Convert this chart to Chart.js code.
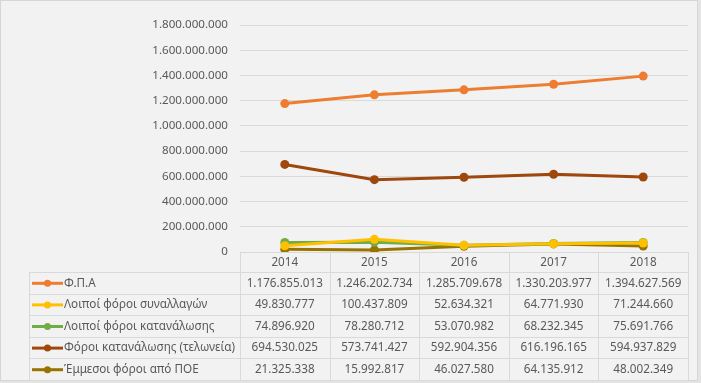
<!DOCTYPE html>
<html>
<head>
<meta charset="utf-8">
<script src="https://cdn.jsdelivr.net/npm/chart.js@4/dist/chart.umd.min.js"></script>
<style>
  html, body { margin: 0; padding: 0; background: #f2f2f2; }
  #wrap { width: 701px; height: 383px; position: relative; }
</style>
</head>
<body>
<div id="wrap"><canvas id="c" width="701" height="383"></canvas></div>
<script>
const years = ['2014', '2015', '2016', '2017', '2018'];
const seriesNames = [
  'Φ.Π.Α',
  'Λοιποί φόροι συναλλαγών',
  'Λοιποί φόροι κατανάλωσης',
  'Φόροι κατανάλωσης (τελωνεία)',
  'Έμμεσοι φόροι από ΠΟΕ'
];
const fpa = [1176855013, 1246202734, 1285709678, 1330203977, 1394627569];
const synallagon = [49830777, 100437809, 52634321, 64771930, 71244660];
const katanalosis = [74896920, 78280712, 53070982, 68232345, 75691766];
const telonia = [694530025, 573741427, 592904356, 616196165, 594937829];
const poe = [21325338, 15992817, 46027580, 64135912, 48002349];
const seriesColors = ['#ED7D31', '#FFC000', '#70AD47', '#9E480E', '#997300'];
const yTicks = [0, 200000000, 400000000, 600000000, 800000000, 1000000000, 1200000000, 1400000000, 1600000000, 1800000000];

const seriesValues = [fpa, synallagon, katanalosis, telonia, poe];
const FAMILY = '"Noto Sans", "Open Sans", sans-serif';
const FONT = '11.7px ' + FAMILY;
const TEXT = '#595959';
const LINE = '#d9d9d9';

function fmt(v) {
  return String(Math.round(v)).replace(/\B(?=(\d{3})+(?!\d))/g, '.');
}

const framePlugin = {
  id: 'frame',
  beforeDraw(chart) {
    const ctx = chart.ctx;
    ctx.save();
    ctx.fillStyle = '#f2f2f2';
    ctx.fillRect(0, 0, chart.width, chart.height);
    ctx.fillStyle = '#e4e4e4';
    ctx.fillRect(0, 381, chart.width, chart.height - 381);
    ctx.fillRect(698, 0, chart.width - 698, chart.height);
    ctx.strokeStyle = '#d6d6d6';
    ctx.lineWidth = 1;
    ctx.strokeRect(0.5, 0.5, 697, 380);
    ctx.restore();
  }
};

const tablePlugin = {
  id: 'dataTable',
  afterDraw(chart) {
    const ctx = chart.ctx;
    const x = chart.scales.x;
    const area = chart.chartArea;
    const left = area.left, right = area.right;
    const colW = (right - left) / years.length;
    const top = area.bottom;
    const headerBottom = top + 20;
    const rowH = 21.6;
    const tableLeft = 29;
    const bottom = headerBottom + rowH * seriesNames.length;
    ctx.save();
    ctx.strokeStyle = LINE;
    ctx.lineWidth = 1;
    ctx.beginPath();
    ctx.moveTo(left, Math.round(top) + 0.5); ctx.lineTo(right, Math.round(top) + 0.5);
    for (let r = 0; r <= seriesNames.length; r++) {
      const y = Math.round(headerBottom + r * rowH) + 0.5;
      ctx.moveTo(tableLeft, y); ctx.lineTo(right, y);
    }
    for (let c = 0; c <= years.length; c++) {
      const xx = Math.round(left + c * colW) + 0.5;
      ctx.moveTo(xx, top); ctx.lineTo(xx, bottom);
    }
    ctx.moveTo(tableLeft + 0.5, headerBottom); ctx.lineTo(tableLeft + 0.5, bottom);
    ctx.stroke();

    ctx.font = FONT;
    ctx.fillStyle = TEXT;
    ctx.textBaseline = 'middle';
    ctx.textAlign = 'center';
    years.forEach((yr, i) => {
      ctx.fillText(yr, x.getPixelForValue(i), top + 11);
    });
    seriesNames.forEach((name, r) => {
      const cy = headerBottom + r * rowH + rowH / 2 + 0.5;
      ctx.strokeStyle = seriesColors[r];
      ctx.lineWidth = 3;
      ctx.beginPath();
      ctx.moveTo(32, cy); ctx.lineTo(63, cy);
      ctx.stroke();
      ctx.fillStyle = seriesColors[r];
      ctx.beginPath();
      ctx.arc(47.5, cy, 3.5, 0, Math.PI * 2);
      ctx.fill();
      ctx.fillStyle = TEXT;
      ctx.textAlign = 'left';
      ctx.fillText(name, 64, cy);
      ctx.textAlign = 'center';
      seriesValues[r].forEach((v, i) => {
        ctx.fillText(fmt(v), x.getPixelForValue(i), cy);
      });
    });
    ctx.restore();
  }
};

new Chart(document.getElementById('c'), {
  type: 'line',
  data: {
    labels: years,
    datasets: seriesNames.map((name, i) => ({
      label: name,
      data: seriesValues[i],
      borderColor: seriesColors[i],
      backgroundColor: seriesColors[i],
      borderWidth: 3,
      pointRadius: 4.5,
      pointHoverRadius: 4.5,
      pointBorderWidth: 0,
      tension: 0
    }))
  },
  options: {
    responsive: false,
    animation: false,
    events: [],
    layout: { padding: { left: 0, right: 13, top: 25, bottom: 131 } },
    plugins: { legend: { display: false }, tooltip: { enabled: false } },
    scales: {
      x: {
        display: false,
        offset: true
      },
      y: {
        min: 0,
        max: 1800000000,
        afterBuildTicks(scale) { scale.ticks = yTicks.map(v => ({ value: v })); },
        afterFit(scale) { scale.width = 240; },
        border: { display: false },
        grid: { color: LINE, drawTicks: false, lineWidth: 1 },
        ticks: {
          color: TEXT,
          font: { family: FAMILY, size: 11.6 },
          padding: 12,
          callback: v => fmt(v)
        }
      }
    }
  },
  plugins: [framePlugin, tablePlugin]
});
</script>
</body>
</html>
